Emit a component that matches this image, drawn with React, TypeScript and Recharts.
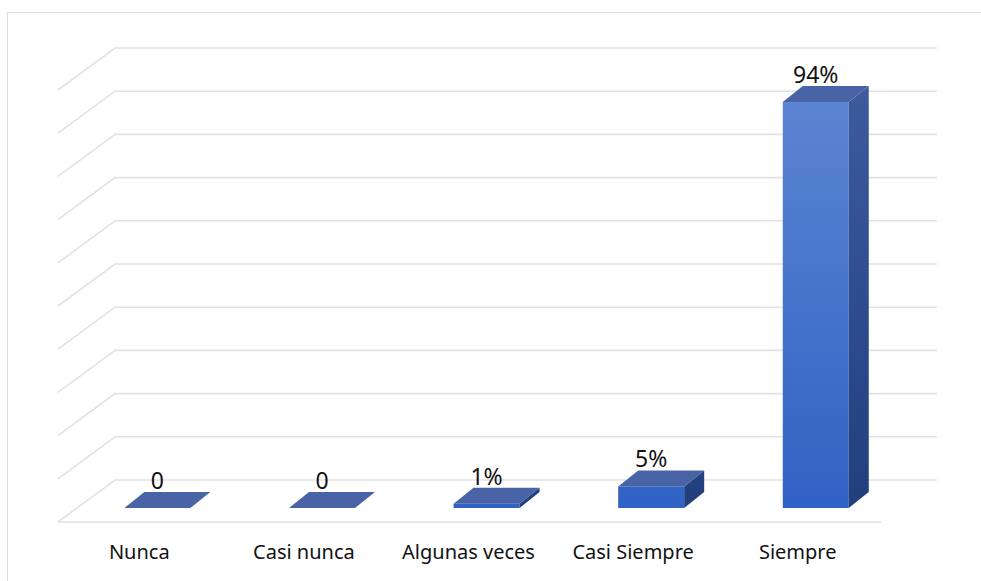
import { BarChart, Bar, XAxis, YAxis, CartesianGrid, LabelList } from "recharts";

const CATEGORIES = ["Nunca", "Casi nunca", "Algunas veces", "Casi Siempre", "Siempre"];
const VALUES = [0, 0, 0.01, 0.05, 0.94];
const Y_TICKS = [0, 0.1, 0.2, 0.3, 0.4, 0.5, 0.6, 0.7, 0.8, 0.9, 1];

const data = CATEGORIES.map((name, i) => ({ name, value: VALUES[i] }));

// fake 3D offsets
const BAR_DX = 20;
const BAR_DY = -16;
const WALL_DX = 40;
const WALL_DY = -28;
const FLOOR_DX = -17;
const FLOOR_DY = 14;

const FONT = "'Noto Sans', 'Open Sans', sans-serif";

const fmt = (v: number) => (v === 0 ? "0" : `${Math.round(v * 100)}%`);

const Bar3D = (props: any) => {
  const { x, y, width, height } = props;
  const h = Math.max(height || 0, 0);
  const b = y + h;
  const r = x + width;
  return (
    <g>
      {h > 0 && <rect x={x} y={y} width={width} height={h} fill="url(#frontGrad)" />}
      {h > 0 && (
        <path
          d={`M${r},${y} L${r + BAR_DX},${y + BAR_DY} L${r + BAR_DX},${b + BAR_DY} L${r},${b} Z`}
          fill="url(#sideGrad)"
        />
      )}
      <path
        d={`M${x},${y} L${x + BAR_DX},${y + BAR_DY} L${r + BAR_DX},${y + BAR_DY} L${r},${y} Z`}
        fill="#4864a6"
      />
    </g>
  );
};

const GridLine = (props: any) => {
  const { x1, x2, y1, index } = props;
  const yb = y1 + WALL_DY;
  const left = x1 + FLOOR_DX;
  return (
    <g key={`g-${index}`}>
      <path
        d={`M${left},${yb + FLOOR_DY - WALL_DY} L${x1 + WALL_DX},${yb} L${x2 + WALL_DX - 1},${yb}`}
        fill="none"
        stroke="#dfe2e8"
        strokeWidth={1.6}
      />
      {index === 0 && (
        <line
          x1={left}
          y1={yb + FLOOR_DY - WALL_DY}
          x2={x2 + FLOOR_DX}
          y2={yb + FLOOR_DY - WALL_DY}
          stroke="#dfe2e8"
          strokeWidth={1.6}
        />
      )}
    </g>
  );
};

const CategoryTick = ({ x, y, payload }: any) => (
  <text x={x - 18} y={y} dy={43} textAnchor="middle" fontFamily={FONT} fontSize={20} fill="#111">
    {payload.value}
  </text>
);

const ValueLabel = ({ x, y, width, value }: any) => (
  <text
    x={x + width / 2}
    y={y + BAR_DY - 3}
    textAnchor="middle"
    fontFamily={FONT}
    fontSize={23}
    fill="#111"
  >
    {fmt(value)}
  </text>
);

export default function App() {
  return (
    <div
      style={{
        position: "absolute",
        left: 0,
        top: 0,
        width: 981,
        height: 581,
        background: "#fff",
        overflow: "hidden",
      }}
    >
      <div
        style={{
          position: "absolute",
          left: 7,
          top: 12,
          width: 990,
          height: 600,
          border: "1.5px solid #dadee4",
        }}
      />
      <div style={{ position: "absolute", left: 0, top: 0 }}>
        <BarChart
          width={981}
          height={581}
          data={data}
          margin={{ top: 76, right: 83, bottom: 43, left: 75 }}
          barCategoryGap="30%"
        >
          <defs>
            <linearGradient id="frontGrad" gradientUnits="userSpaceOnUse" x1="0" y1="76" x2="0" y2="508">
              <stop offset="0" stopColor="#5e87d3" />
              <stop offset="1" stopColor="#2f62c4" />
            </linearGradient>
            <linearGradient id="sideGrad" gradientUnits="userSpaceOnUse" x1="0" y1="76" x2="0" y2="508">
              <stop offset="0" stopColor="#3e5c9c" />
              <stop offset="1" stopColor="#213f7d" />
            </linearGradient>
          </defs>
          <CartesianGrid vertical={false} horizontal={(p: any) => <GridLine {...p} />} />
          <YAxis hide domain={[0, 1]} ticks={Y_TICKS} type="number" />
          <XAxis dataKey="name" axisLine={false} tickLine={false} tick={<CategoryTick />} interval={0} />
          <Bar dataKey="value" shape={<Bar3D />} isAnimationActive={false}>
            <LabelList dataKey="value" content={<ValueLabel />} />
          </Bar>
        </BarChart>
      </div>
    </div>
  );
}
